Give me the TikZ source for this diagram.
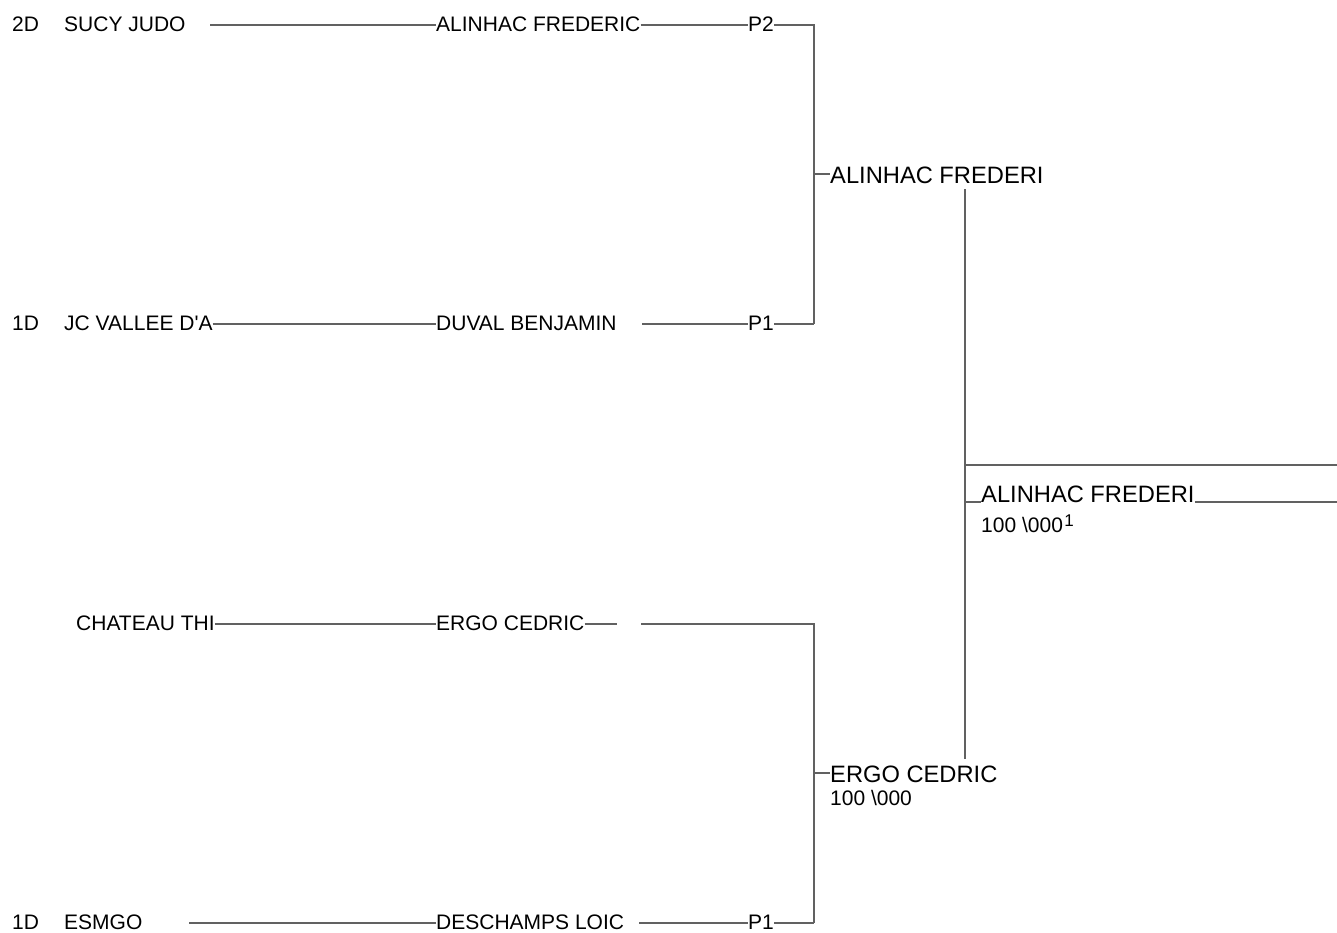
\documentclass[tikz,border=0pt]{standalone}
\usepackage{fontspec}
\setmainfont{Liberation Sans}
\begin{document}
\begin{tikzpicture}[x=1pt,y=-1pt,
  txt/.style={anchor=west,inner sep=0pt,font=\fontsize{21}{24}\selectfont,text height=12pt,text depth=0pt},
  bigtxt/.style={anchor=west,inner sep=0pt,font=\fontsize{23.7}{27}\selectfont,text height=18pt,text depth=0pt},
  ln/.style={draw=black!62,line width=1.3pt}]
\useasboundingbox (0,0) rectangle (1337,932);
% Row 1
\node[txt] (r1a) at (12,25) {2D};
\node[txt] (r1b) at (64,25) {SUCY JUDO};
\node[txt] (r1n) at (436,25) {ALINHAC FREDERIC};
\node[txt] (r1p) at (748,25) {P2};
\coordinate (r1s) at (210,25);
\coordinate (k1) at (814,25);
% Row 2
\node[txt] (r2a) at (12,324) {1D};
\node[txt] (r2b) at (64,324) {JC VALLEE D\textquotesingle A};
\node[txt] (r2n) at (436,324) {DUVAL BENJAMIN};
\node[txt] (r2p) at (748,324) {P1};
\coordinate (r2s) at (642,324);
\coordinate (k2) at (814,324);
% Row 3
\node[txt] (r3b) at (76,624) {CHATEAU THI};
\node[txt] (r3n) at (436,624) {ERGO CEDRIC};
\coordinate (r3e) at (617,624);
\coordinate (r3s) at (641,624);
\coordinate (k3) at (814,624);
% Row 4
\node[txt] (r4a) at (12,923) {1D};
\node[txt] (r4b) at (64,923) {ESMGO};
\node[txt] (r4n) at (436,923) {DESCHAMPS LOIC};
\node[txt] (r4p) at (748,923) {P1};
\coordinate (r4s) at (189,923);
\coordinate (r4t) at (639,923);
\coordinate (k4) at (814,923);
% Round 2
\coordinate (j1) at (814,174);
\node[bigtxt] (w1) at (830,174) {ALINHAC FREDERI};
\coordinate (j2) at (814,773);
\node[bigtxt] (w2) at (830,773) {ERGO CEDRIC};
\node[txt] (w2s) at (830,799) {100 \textbackslash 000};
% Final
\coordinate (v1) at (965,189);
\coordinate (v2) at (965,759);
\coordinate (h1) at (965,465);
\coordinate (h2) at (1337,465);
\coordinate (t1) at (965,502);
\node[anchor=base west,inner sep=0pt,font=\fontsize{23.7}{27}\selectfont] (f) at (981,502) {ALINHAC FREDERI};
\coordinate (u2) at (1337,502);
\node[txt] (fs) at (981,526) {100 \textbackslash 000\kern1.5pt\raisebox{6pt}{\fontsize{17}{17}\selectfont 1}};
% connectors
\draw[ln] (r1s) -- (r1n.west);
\draw[ln] (r1n.east) -- (r1p.west);
\draw[ln] (r1p.east) -- (k1) -- (k2);
\draw[ln] (r2b.east) -- (r2n.west);
\draw[ln] (r2s) -- (r2p.west);
\draw[ln] (r2p.east) -- (k2);
\draw[ln] (r3b.east) -- (r3n.west);
\draw[ln] (r3n.east) -- (r3e);
\draw[ln] (r3s) -- (k3) -- (k4);
\draw[ln] (r4s) -- (r4n.west);
\draw[ln] (r4t) -- (r4p.west);
\draw[ln] (r4p.east) -- (k4);
\draw[ln] (j1) -- (w1.west);
\draw[ln] (j2) -- (w2.west);
\draw[ln] (v1) -- (v2);
\draw[ln] (h1) -- (h2);
\draw[ln] (t1) -- (f.base west);
\draw[ln] (f.base east) -- (u2);
\end{tikzpicture}
\end{document}
